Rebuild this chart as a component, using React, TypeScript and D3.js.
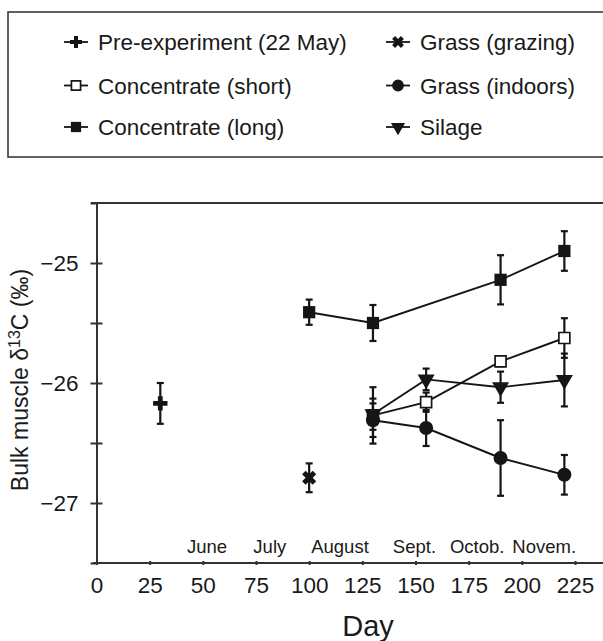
import React, { useEffect, useRef } from "react";
import * as d3 from "d3";

// axis ticks
const xTicks = [0, 25, 50, 75, 100, 125, 150, 175, 200, 225];
const yTicks = [-27.5, -27, -26.5, -26, -25.5, -25, -24.5];
const yLabelled = [-27, -26, -25];

// month names and the day they sit over
const months = ["June", "July", "August", "Sept.", "Octob.", "Novem."];
const monthDays = [52, 81.5, 114.5, 149.5, 179, 210.5];

// series (day, mean, error)
const preDays = [30];
const preMean = [-26.17];
const preErr = [0.17];

const grazingDays = [100];
const grazingMean = [-26.79];
const grazingErr = [0.12];

const concShortDays = [130, 155, 190, 220];
const concShortMean = [-26.27, -26.16, -25.82, -25.625];
const concShortErr = [0.235, 0.08, 0.04, 0.165];

const concLongDays = [100, 130, 190, 220];
const concLongMean = [-25.41, -25.5, -25.14, -24.9];
const concLongErr = [0.105, 0.15, 0.205, 0.165];

const indoorsDays = [130, 155, 190, 220];
const indoorsMean = [-26.31, -26.375, -26.625, -26.765];
const indoorsErr = [0.14, 0.15, 0.315, 0.165];

const silageDays = [130, 155, 190, 220];
const silageMean = [-26.26, -25.97, -26.035, -25.975];
const silageErr = [0.13, 0.09, 0.13, 0.22];

const zip = (d: number[], m: number[], e: number[]) =>
  d.map((day, i) => ({ day, mean: m[i], err: e[i] }));

const series = [
  { name: "Pre-experiment (22 May)", marker: "plus", line: false, pts: zip(preDays, preMean, preErr) },
  { name: "Concentrate (short)", marker: "squareOpen", line: true, pts: zip(concShortDays, concShortMean, concShortErr) },
  { name: "Concentrate (long)", marker: "square", line: true, pts: zip(concLongDays, concLongMean, concLongErr) },
  { name: "Grass (grazing)", marker: "cross", line: false, pts: zip(grazingDays, grazingMean, grazingErr) },
  { name: "Grass (indoors)", marker: "circle", line: true, pts: zip(indoorsDays, indoorsMean, indoorsErr) },
  { name: "Silage", marker: "triDown", line: true, pts: zip(silageDays, silageMean, silageErr) },
];

const INK = "#151515";
const TXT = "#1a1a1a";
const FONT = "'Liberation Sans', Arial, Helvetica, sans-serif";

function addMarker(g: any, type: string, scale: number) {
  const sym = (t: any, size: number) => d3.symbol().type(t).size(size * scale)();
  if (type === "plus") {
    g.append("path").attr("d", sym(d3.symbolCross, 115)).attr("fill", INK);
  } else if (type === "cross") {
    g.append("path").attr("d", sym(d3.symbolCross, 125)).attr("fill", INK).attr("transform", "rotate(45)");
  } else if (type === "squareOpen") {
    g.append("path").attr("d", sym(d3.symbolSquare, 120)).attr("fill", "#fff").attr("stroke", INK).attr("stroke-width", 1.7);
  } else if (type === "square") {
    g.append("path").attr("d", sym(d3.symbolSquare, 150)).attr("fill", INK);
  } else if (type === "circle") {
    g.append("path").attr("d", sym(d3.symbolCircle, 155)).attr("fill", INK);
  } else if (type === "triDown") {
    g.append("path").attr("d", sym(d3.symbolTriangle, 125)).attr("fill", INK).attr("transform", "rotate(180)");
  }
}

export default function App() {
  const svgRef = useRef<SVGSVGElement>(null);

  useEffect(() => {
    const width = 603;
    const height = 641;
    const svg = d3.select(svgRef.current)
      .attr("width", width)
      .attr("height", height)
      .style("position", "absolute")
      .style("left", 0)
      .style("top", 0)
      .style("font-family", FONT);
    svg.selectAll("*").remove();

    const x = d3.scaleLinear().domain([0, 225]).range([96.5, 575]);
    const y = d3.scaleLinear().domain([-27.5, -24.5]).range([563, 203]);

    // legend
    svg.append("rect")
      .attr("x", 8).attr("y", 12).attr("width", 640).attr("height", 145)
      .attr("fill", "none").attr("stroke", "#3a3a3a").attr("stroke-width", 1.6);

    const legendX = [76, 398];
    const legendY = [42, 85.5, 127];
    series.forEach((s, i) => {
      const col = Math.floor(i / 3);
      const row = i % 3;
      const g = svg.append("g").attr("transform", `translate(${legendX[col]},${legendY[row]})`);
      g.append("line").attr("x1", -12).attr("x2", 12).attr("stroke", INK).attr("stroke-width", 1.8);
      addMarker(g, s.marker, 0.7);
      g.append("text")
        .attr("x", 22).attr("dy", "0.36em")
        .attr("font-size", 22.5).attr("fill", TXT)
        .text(s.name);
    });

    // frame lines
    svg.append("line").attr("x1", 91).attr("x2", 610).attr("y1", y(-24.5)).attr("y2", y(-24.5))
      .attr("stroke", "#333").attr("stroke-width", 2);
    svg.append("line").attr("x1", 93).attr("x2", 610).attr("y1", y(-27.5)).attr("y2", y(-27.5))
      .attr("stroke", "#333").attr("stroke-width", 2);

    // y axis: ticks crossing the line, labels on integers
    const yAxisL = d3.axisLeft(y)
      .tickValues(yTicks)
      .tickSize(6)
      .tickSizeOuter(0)
      .tickPadding(12)
      .tickFormat((d: any) => (yLabelled.includes(d) ? d3.format("d")(d) : ""));
    const gy = svg.append("g").attr("transform", `translate(${x(0)},0)`).call(yAxisL);
    const gy2 = svg.append("g").attr("transform", `translate(${x(0)},0)`)
      .call(d3.axisRight(y).tickValues(yTicks.slice(1, -1)).tickSize(6).tickSizeOuter(0).tickFormat(() => ""));
    gy2.select(".domain").remove();
    [gy, gy2].forEach((g) => {
      g.selectAll("path, line").attr("stroke", "#333").attr("stroke-width", 2);
      g.selectAll("text").attr("font-size", 22.5).attr("font-family", FONT).attr("fill", TXT);
    });

    // x axis
    const gx = svg.append("g").attr("transform", `translate(0,${y(-27.5)})`)
      .call(d3.axisBottom(x).tickValues(xTicks).tickSize(2).tickSizeOuter(0).tickPadding(12));
    gx.select(".domain").remove();
    const gx2 = svg.append("g").attr("transform", `translate(0,${y(-27.5)})`)
      .call(d3.axisTop(x).tickValues(xTicks.slice(1)).tickSize(2).tickFormat(() => ""));
    gx2.select(".domain").remove();
    [gx, gx2].forEach((g) => {
      g.selectAll("line").attr("stroke", "#333").attr("stroke-width", 2);
      g.selectAll("text").attr("font-size", 22.5).attr("font-family", FONT).attr("fill", TXT);
    });

    // month labels
    svg.append("g").selectAll("text")
      .data(months)
      .join("text")
      .attr("x", (d, i) => x(monthDays[i]))
      .attr("y", 553)
      .attr("text-anchor", "middle")
      .attr("font-size", 18.5)
      .attr("fill", TXT)
      .text((d) => d);

    // axis titles
    svg.append("text")
      .attr("x", 368).attr("y", 636)
      .attr("text-anchor", "middle")
      .attr("font-size", 29)
      .attr("fill", TXT)
      .text("Day");

    const yt = svg.append("text")
      .attr("transform", "translate(28,380) rotate(-90)")
      .attr("text-anchor", "middle")
      .attr("font-size", 23)
      .attr("fill", TXT);
    yt.append("tspan").text("Bulk muscle δ");
    yt.append("tspan").attr("font-size", 16).attr("dy", "-0.5em").text("13");
    yt.append("tspan").attr("dy", "0.35em").text("C (‰)");

    // lines
    const line = d3.line<any>().x((d) => x(d.day)).y((d) => y(d.mean));
    series.filter((s) => s.line).forEach((s) => {
      svg.append("path")
        .attr("d", line(s.pts))
        .attr("fill", "none")
        .attr("stroke", INK)
        .attr("stroke-width", 1.9);
    });

    // error bars
    series.forEach((s) => {
      const g = svg.append("g");
      s.pts.forEach((p) => {
        const cx = x(p.day);
        const y1 = y(p.mean + p.err);
        const y2 = y(p.mean - p.err);
        g.append("line").attr("x1", cx).attr("x2", cx).attr("y1", y1).attr("y2", y2)
          .attr("stroke", INK).attr("stroke-width", 2.2);
        [y1, y2].forEach((yy) => {
          g.append("line").attr("x1", cx - 3.5).attr("x2", cx + 3.5).attr("y1", yy).attr("y2", yy)
            .attr("stroke", INK).attr("stroke-width", 2.2);
        });
      });
    });

    // markers
    series.forEach((s) => {
      s.pts.forEach((p) => {
        const g = svg.append("g").attr("transform", `translate(${x(p.day)},${y(p.mean)})`);
        addMarker(g, s.marker, 1);
      });
    });
  }, []);

  return (
    <div className="chart">
      <svg ref={svgRef}></svg>
    </div>
  );
}
